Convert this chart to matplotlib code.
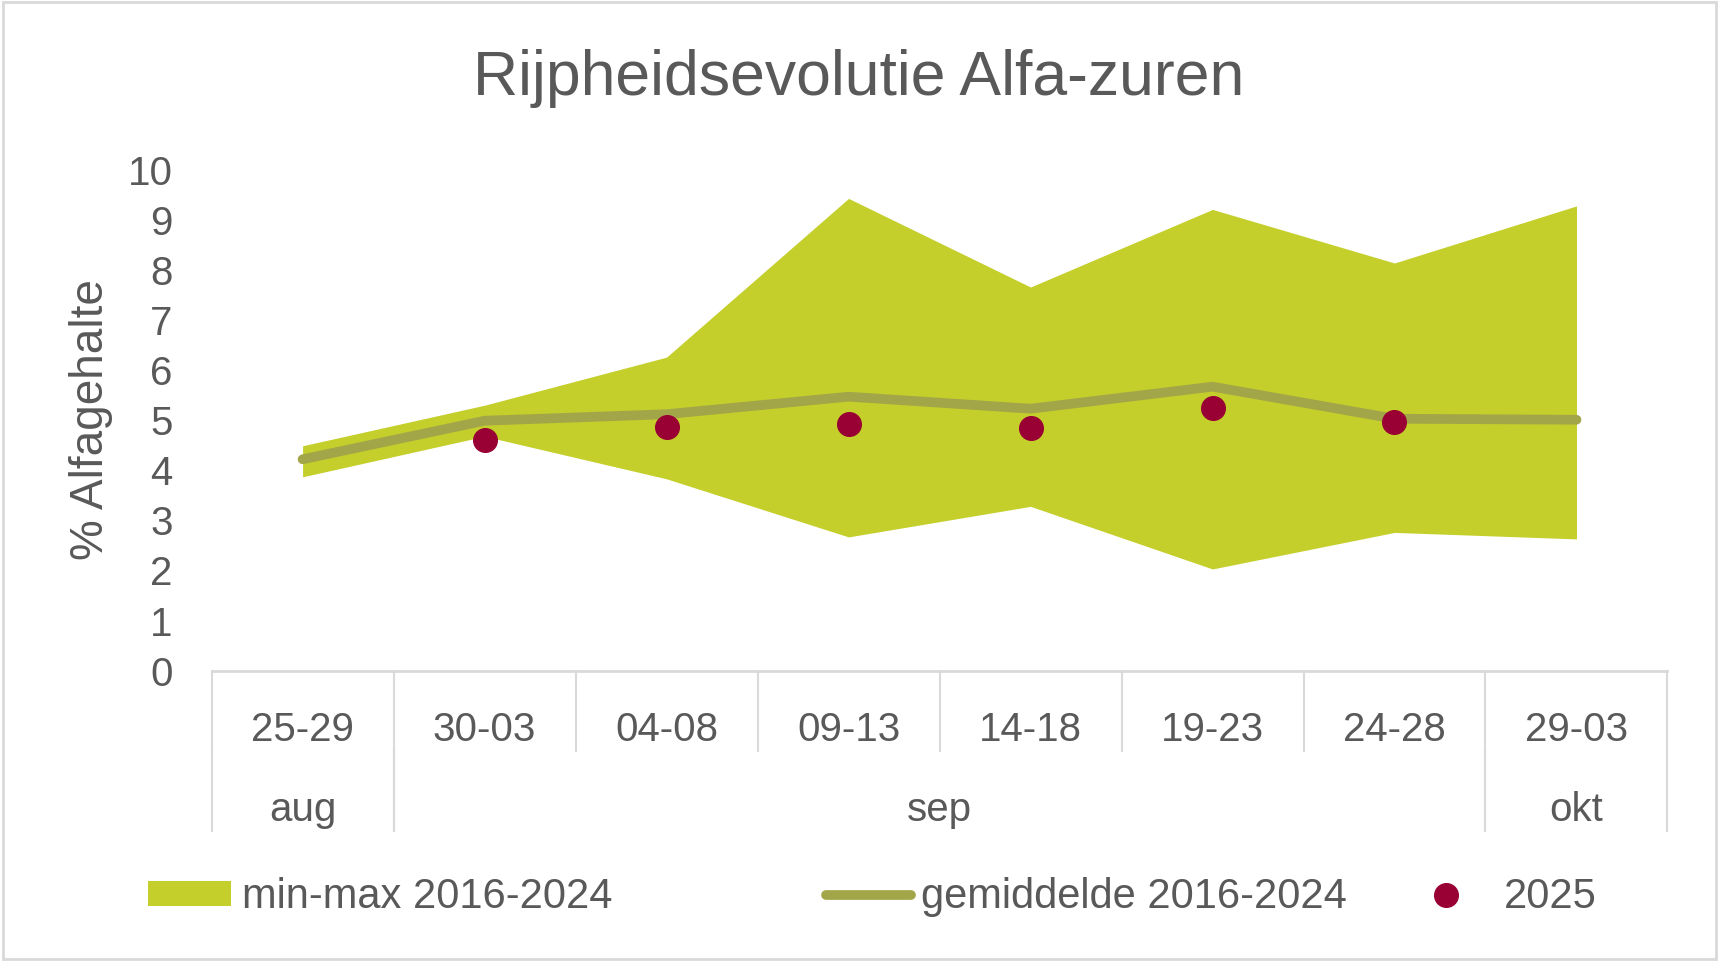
import numpy as np
import matplotlib
matplotlib.use('Agg')
import matplotlib.pyplot as plt
from matplotlib.patches import Patch
from matplotlib.lines import Line2D

plt.rcParams['font.family'] = ['Liberation Sans', 'DejaVu Sans']

# data
categories = ['25-29', '30-03', '04-08', '09-13', '14-18', '19-23', '24-28', '29-03']
months = ['aug', 'sep', 'okt']
month_spans = [(0, 0), (1, 6), (7, 7)]
max_vals = [4.49, 5.30, 6.26, 9.43, 7.66, 9.21, 8.14, 9.28]
min_vals = [3.87, 4.68, 3.83, 2.67, 3.28, 2.03, 2.76, 2.63]
mean_vals = [4.22, 4.99, 5.12, 5.47, 5.23, 5.67, 5.03, 5.01]
vals_2025 = [np.nan, 4.60, 4.86, 4.92, 4.84, 5.25, 4.97, np.nan]

FILL = '#C4CF2B'
MEAN = '#A3A648'
DOT = '#990033'
TXT = '#595959'
GRID = '#D9D9D9'

W, H = 1568.0, 877.0  # reference coordinates

fig = plt.figure(figsize=(17.19, 9.61), dpi=100)
ax = fig.add_axes([193 / W, 1 - 612 / H, (1521 - 193) / W, 457 / H])

x = np.arange(len(categories))
ax.fill_between(x, min_vals, max_vals, color=FILL, lw=0, zorder=1)
ax.plot(x, mean_vals, color=MEAN, lw=7, solid_capstyle='round',
        solid_joinstyle='miter', zorder=2)
ax.plot(x, vals_2025, 'o', color=DOT, ms=17, mec=DOT, zorder=3)

ax.set_xlim(-0.5, len(categories) - 0.5)
ax.set_ylim(0, 10)
ax.set_yticks(range(0, 11))
ax.tick_params(axis='y', length=0, pad=28, labelsize=29, labelcolor=TXT)
ax.set_xticks([])
for s in ['top', 'right', 'left']:
    ax.spines[s].set_visible(False)
ax.spines['bottom'].set_color(GRID)
ax.spines['bottom'].set_linewidth(2)

# two-level category axis
tr = ax.get_xaxis_transform()
lvl1 = -(685 - 612) / 457
lvl2 = -(758 - 612) / 457
for i in range(len(categories) + 1):
    ax.plot([i - 0.5, i - 0.5], [0, lvl1], transform=tr, color=GRID, lw=1.5, clip_on=False)
for i, lab in enumerate(categories):
    ax.text(i, -(666 - 612) / 457, lab, transform=tr, ha='center', va='center',
            fontsize=29, color=TXT)
for (a, b), m in zip(month_spans, months):
    for edge in (a - 0.5, b + 0.5):
        ax.plot([edge, edge], [lvl1, lvl2], transform=tr, color=GRID, lw=1.5, clip_on=False)
    ax.text((a + b) / 2, -(739 - 612) / 457, m, transform=tr, ha='center', va='center',
            fontsize=29, color=TXT)

fig.text(783 / W, 1 - 72 / H, 'Rijpheidsevolutie Alfa-zuren', ha='center', va='center',
         fontsize=45, color=TXT)
fig.text(83 / W, 1 - 383 / H, '% Alfagehalte', ha='center', va='center', rotation=90,
         fontsize=33, color=TXT)

# legend, three separate entries like the Excel layout
leg_y = 1 - 819 / H
items = [
    (Patch(facecolor=FILL, edgecolor='none'), 'min-max 2016-2024', 135, 2.0, 0.25),
    (Line2D([], [], color=MEAN, lw=7, solid_capstyle='round'), 'gemiddelde 2016-2024', 753, 2.05, 0.25),
    (Line2D([], [], ls='none', marker='o', color=DOT, ms=17), '2025', 1294, 1.3, 0.75),
]
for h, lab, x0, hl, tp in items:
    fig.legend([h], [lab], loc='center left', bbox_to_anchor=(x0 / W, leg_y),
               frameon=False, fontsize=30, labelcolor=TXT, handlelength=hl,
               handleheight=0.55, handletextpad=tp, borderpad=0, borderaxespad=0)

# light outer frame
fig.patches.append(plt.Rectangle((0.002, 0.002), 0.996, 0.996, transform=fig.transFigure,
                                 fill=False, edgecolor=GRID, lw=2))

fig.savefig('out.png', dpi=100, facecolor='white')
